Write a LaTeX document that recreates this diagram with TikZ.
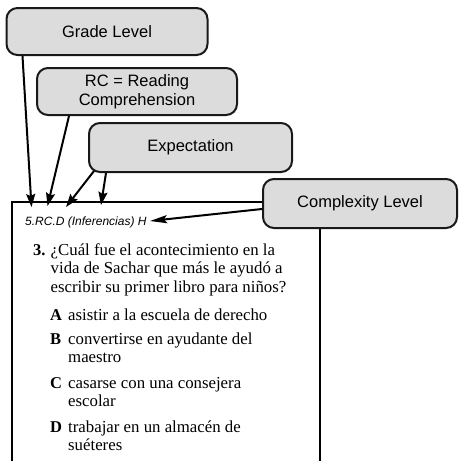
\documentclass[tikz,border=0pt]{standalone}
\usepackage{fontspec}
\setmainfont{Liberation Serif}
\setsansfont{Liberation Sans}
\usetikzlibrary{arrows.meta,calc}
\definecolor{boxgray}{RGB}{220,220,220}
\begin{document}
\begin{tikzpicture}[x=1pt,y=-1pt,
  callout/.style={draw=black!90,line width=2pt,fill=boxgray,rounded corners=11pt,
    font=\sffamily\fontsize{16.5}{19}\selectfont,align=center,inner sep=0pt},
  pointer/.style={line width=2pt,-{Stealth[length=13pt,width=9pt,inset=2pt]}},
  qtext/.style={anchor=base west,inner sep=0pt,font=\rmfamily\fontsize{16.8}{18}\selectfont},
  optletter/.style={anchor=base west,inner sep=0pt,font=\rmfamily\bfseries\fontsize{16.5}{18}\selectfont}]
\useasboundingbox (0,0) rectangle (459,461);
% frame
\draw[line width=2pt] (12,461) -- (12,202) -- (300,202);
\draw[line width=2pt] (320,226) -- (320,461);
% callouts
\node[callout,minimum width=201pt,minimum height=47pt] (grade) at (107,31.5) {Grade Level};
\node[callout,minimum width=200pt,minimum height=47pt] (rc) at (137,91.5) {RC = Reading\\Comprehension};
\node[callout,minimum width=203pt,minimum height=49pt] (expect) at (190.5,147.5) {Expectation};
\node[callout,minimum width=194pt,minimum height=49pt] (complex) at (360,203.5) {Complexity Level};
% code label
\node[anchor=base west,inner sep=0pt,font=\sffamily\itshape\fontsize{12}{14}\selectfont] (code) at (25,225) {5.RC.D (Inferencias) H};
% arrow targets
\coordinate (tg) at (31.5,207);
\coordinate (trc) at (47.5,206);
\coordinate (te1) at (66,207);
\coordinate (te2) at (101,205);
\coordinate (tc) at (150,221);
\draw[pointer] ($(grade.south west)+(17,0)$) -- (tg);
\draw[pointer] ($(rc.south west)+(33,0)$) -- (trc);
\draw[pointer] ($(expect.south west)+(6,-2)$) -- (te1);
\draw[pointer] ($(expect.south west)+(18,0)$) -- (te2);
\draw[pointer,-{Stealth[length=17pt,width=8pt,inset=3pt]}] ($(complex.west)+(0,5.5)$) -- (tc);
% question
\node[optletter] (q3) at (33,255) {3.};
\node[qtext] (l1) at (50.5,255) {¿Cuál fue el acontecimiento en la};
\node[qtext] (l2) at (50.5,273.5) {vida de Sachar que más le ayudó a};
\node[qtext] (l3) at (50.5,292) {escribir su primer libro para niños?};
\node[optletter] (oa) at (50,320) {A};
\node[qtext] (ta) at (68,320) {asistir a la escuela de derecho};
\node[optletter] (ob) at (50,344) {B};
\node[qtext] (tb) at (68,344) {convertirse en ayudante del};
\node[qtext] (tb2) at (68,362.5) {maestro};
\node[optletter] (oc) at (50,388) {C};
\node[qtext] (tc1) at (68,388) {casarse con una consejera};
\node[qtext] (tc2) at (68,406.5) {escolar};
\node[optletter] (od) at (50,432) {D};
\node[qtext] (td) at (68,432) {trabajar en un almacén de};
\node[qtext] (td2) at (68,450.5) {suéteres};
\end{tikzpicture}
\end{document}
